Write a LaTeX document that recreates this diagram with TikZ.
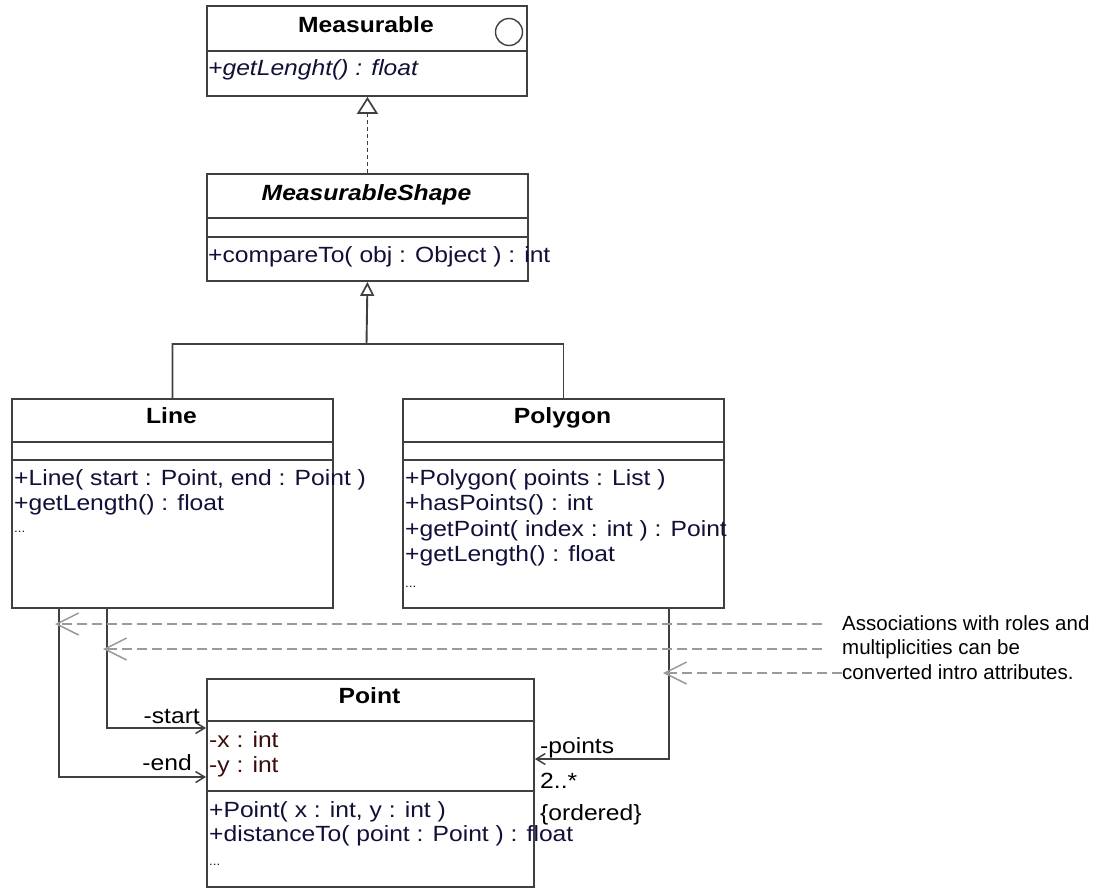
\documentclass[tikz,border=0pt]{standalone}
\usepackage{fontspec}
\usetikzlibrary{arrows.meta}
\newfontfamily\umlfont{Liberation Sans}[FakeStretch=1.12]
\newfontfamily\notefont{Liberation Sans}
\definecolor{edgegray}{HTML}{404040}
\definecolor{opnavy}{HTML}{101038}
\definecolor{attrmaroon}{HTML}{3C0C0C}
\definecolor{notegray}{HTML}{9A9A9A}
\tikzset{
  classbox/.style={draw=edgegray, line width=1.9pt, fill=white, anchor=north west, inner sep=0pt},
  divider/.style={draw=edgegray, line width=1.9pt},
  umltext/.style={inner sep=0pt, font=\umlfont\fontsize{22}{24}\selectfont},
  classtitle/.style={umltext, anchor=base, font=\umlfont\fontsize{22}{24}\selectfont\bfseries},
  opline/.style={umltext, anchor=base west, text=opnavy},
  attrline/.style={umltext, anchor=base west, text=attrmaroon},
  ellip/.style={anchor=base west, inner sep=0pt, font=\umlfont\fontsize{12}{14}\selectfont, text=opnavy},
  role/.style={umltext},
  notetext/.style={inner sep=0pt, align=left, font=\notefont\fontsize{20.5}{24.5}\selectfont},
  assoc/.style={draw=edgegray, line width=1.9pt, -{Straight Barb[length=9pt,width=11pt,line width=1.5pt]}},
  genline/.style={draw=edgegray, line width=1.9pt},
  gen/.style={genline, -{Triangle[open,length=14pt,width=14pt,line width=1.7pt]}},
  realize/.style={draw=edgegray, line width=1.8pt, dash pattern=on 4pt off 3pt,
                  -{Triangle[open,length=17pt,width=21pt,line width=1.7pt]}},
  notearrow/.style={draw=notegray, line width=1.7pt, dash pattern=on 10pt off 5pt,
                    -{Straight Barb[length=22pt,width=22pt,line width=1.5pt]}},
}
\begin{document}
\begin{tikzpicture}[x=1pt, y=-1pt]
\useasboundingbox (0,0) rectangle (1111,888);

% interface Measurable
\node[classbox, minimum width=320pt, minimum height=90pt] (measurable) at (206,5) {};
\draw[divider] (206,51) -- (526,51);
\node[classtitle] (measurable-name) at (366,33) {Measurable};
\node[circle, draw=edgegray, line width=1.4pt, minimum size=27pt, inner sep=0pt] (iface) at (509,32) {};
\node[opline, font=\umlfont\fontsize{22}{24}\selectfont\itshape] (measurable-op) at (208,76) {+getLenght() : float};

% abstract class MeasurableShape
\node[classbox, minimum width=321pt, minimum height=107pt] (mshape) at (206,173) {};
\draw[divider] (206,218) -- (527,218);
\draw[divider] (206,237) -- (527,237);
\node[classtitle, font=\umlfont\fontsize{22}{24}\selectfont\bfseries\itshape] (mshape-name) at (366.5,200) {MeasurableShape};
\node[opline] (mshape-op) at (208,262) {+compareTo( obj : Object ) : int};

% class Line
\node[classbox, minimum width=321pt, minimum height=209pt] (linecls) at (11,398) {};
\draw[divider] (11,442) -- (332,442);
\draw[divider] (11,460) -- (332,460);
\node[classtitle] (line-name) at (171.5,423) {Line};
\node[opline] (line-op1) at (14,485) {+Line( start : Point, end : Point )};
\node[opline] (line-op2) at (14,510) {+getLength() : float};
\node[ellip] (line-more) at (14,532) {...};

% class Polygon
\node[classbox, minimum width=321pt, minimum height=209pt] (polycls) at (402,398) {};
\draw[divider] (402,442) -- (723,442);
\draw[divider] (402,460) -- (723,460);
\node[classtitle] (poly-name) at (562.5,423) {Polygon};
\node[opline] (poly-op1) at (405,485) {+Polygon( points : List )};
\node[opline] (poly-op2) at (405,510.5) {+hasPoints() : int};
\node[opline] (poly-op3) at (405,536) {+getPoint( index : int ) : Point};
\node[opline] (poly-op4) at (405,561.5) {+getLength() : float};
\node[ellip] (poly-more) at (405,587) {...};

% class Point
\node[classbox, minimum width=327pt, minimum height=208pt] (pointcls) at (206,678) {};
\draw[divider] (206,721) -- (533,721);
\draw[divider] (206,791) -- (533,791);
\node[classtitle] (point-name) at (369.5,703) {Point};
\node[attrline] (point-attr1) at (209,747) {-x : int};
\node[attrline] (point-attr2) at (209,772) {-y : int};
\node[opline] (point-op1) at (209,817) {+Point( x : int, y : int )};
\node[opline] (point-op2) at (209,841) {+distanceTo( point : Point ) : float};
\node[ellip] (point-more) at (209,865) {...};

% realization and generalization
\draw[realize] (mshape.north) -- (mshape.north |- measurable.south);
\coordinate (genjoin) at (366.5,344);
\draw[gen] (linecls.north) |- (genjoin) -- (mshape.south);
\draw[genline] (polycls.north) |- (genjoin);

% associations towards Point
\draw[assoc] (linecls.south west) ++(96,0) |- ([yshift=-50pt]pointcls.north west);
\draw[assoc] (linecls.south west) ++(48,0) |- ([yshift=-99pt]pointcls.north west);
\draw[assoc] (polycls.south west) ++(267,0) |- ([yshift=-81pt]pointcls.north east);

% role names and multiplicities
\node[role, anchor=base east] (role-start) at (200,723) {-start};
\node[role, anchor=base east] (role-end) at (192,770) {-end};
\node[role, anchor=base west] (role-points) at (540,753) {-points};
\node[role, anchor=base west] (mult-points) at (540,788) {2..*};
\node[role, anchor=base west] (cons-points) at (540,820) {\{ordered\}};

% comment with its pointers (base anchor sits on the last line)
\node[notetext, anchor=base west] (note) at (842,679) {Associations with roles and\\multiplicities can be\\converted intro attributes.};
\coordinate (note-a) at (822,624);
\coordinate (note-b) at (822,649);
\coordinate (note-c) at (842,673);
\coordinate (end-role) at (55,624);
\coordinate (start-role) at (103,649);
\coordinate (points-role) at (663,673);
\draw[notearrow] (note-a) -- (end-role);
\draw[notearrow] (note-b) -- (start-role);
\draw[notearrow] (note-c) -- (points-role);
\end{tikzpicture}
\end{document}
